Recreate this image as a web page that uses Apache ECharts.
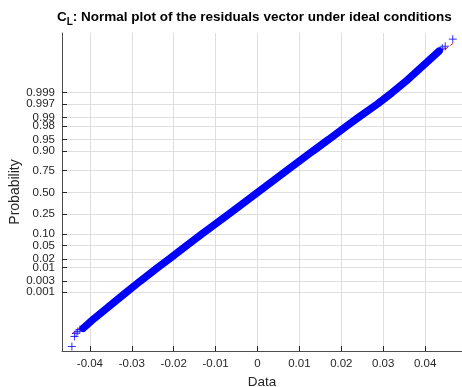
<!DOCTYPE html>
<html>
<head>
<meta charset="utf-8">
<script src="https://cdn.jsdelivr.net/npm/echarts@6/dist/echarts.min.js"></script>
<style>html,body{margin:0;padding:0;background:#fff;}#c{width:462px;height:387px;}</style>
</head>
<body>
<div id="c"></div>
<script>
// ---- data ----
const probTicks  = [0.001, 0.003, 0.01, 0.02, 0.05, 0.10, 0.25, 0.50, 0.75, 0.90, 0.95, 0.98, 0.99, 0.997, 0.999];
const probLabels = ['0.001','0.003','0.01','0.02','0.05','0.10','0.25','0.50','0.75','0.90','0.95','0.98','0.99','0.997','0.999'];
const dataTicks  = [-0.04, -0.03, -0.02, -0.01, 0, 0.01, 0.02, 0.03, 0.04];
const dataLabels = ['-0.04','-0.03','-0.02','-0.01','0','0.01','0.02','0.03','0.04'];

// dense band of residuals (data value, probability)
const bandData = [-0.0416, -0.0390, -0.0313, -0.0280, -0.0238, -0.0210, -0.0169, -0.0132, -0.0069, 0, 0.0069, 0.0132, 0.0170, 0.0212, 0.0241, 0.0287, 0.0321, 0.0353, 0.0433];
const bandProb = [1.3e-5, 4.7e-5, 0.001, 0.003, 0.01, 0.02, 0.05, 0.10, 0.25, 0.50, 0.75, 0.90, 0.95, 0.98, 0.99, 0.997, 0.999, 0.9997, 0.999994];

// isolated tail points
const lowerTailData = [-0.0443, -0.0437, -0.0433, -0.0429, -0.0424];
const lowerTailProb = [9.2e-7, 4.1e-6, 6.5e-6, 8.5e-6, 1.1e-5];
const upperTailData = [0.0436, 0.0441, 0.0448, 0.0466];
const upperTailProb = [0.9999951, 0.9999961, 0.99999705, 0.99999898];

// reference line (through quartiles, extended over the data range)
const refData = [-0.0443, 0.0466];
const refProb = [5.8e-6, 0.99999802];

// ---- normal probability scale ----
function norminv(p) {
  const a = [-3.969683028665376e+01, 2.209460984245205e+02, -2.759285104469687e+02, 1.383577518672690e+02, -3.066479806614716e+01, 2.506628277459239e+00];
  const b = [-5.447609879822406e+01, 1.615858368580409e+02, -1.556989798598866e+02, 6.680131188771972e+01, -1.328068155288572e+01];
  const c = [-7.784894002430293e-03, -3.223964580411365e-01, -2.400758277161838e+00, -2.549732539343734e+00, 4.374664141464968e+00, 2.938163982698783e+00];
  const d = [7.784695709041462e-03, 3.224671290700398e-01, 2.445134137142996e+00, 3.754408661907416e+00];
  const plow = 0.02425;
  let q, r;
  if (p < plow) {
    q = Math.sqrt(-2 * Math.log(p));
    return (((((c[0]*q+c[1])*q+c[2])*q+c[3])*q+c[4])*q+c[5]) / ((((d[0]*q+d[1])*q+d[2])*q+d[3])*q+1);
  } else if (p <= 1 - plow) {
    q = p - 0.5; r = q * q;
    return (((((a[0]*r+a[1])*r+a[2])*r+a[3])*r+a[4])*r+a[5])*q / (((((b[0]*r+b[1])*r+b[2])*r+b[3])*r+b[4])*r+1);
  } else {
    q = Math.sqrt(-2 * Math.log(1 - p));
    return -(((((c[0]*q+c[1])*q+c[2])*q+c[3])*q+c[4])*q+c[5]) / ((((d[0]*q+d[1])*q+d[2])*q+d[3])*q+1);
  }
}
const zTicks = probTicks.map(norminv);
const pair = (xs, ps) => xs.map((x, i) => [x, norminv(ps[i])]);
// labels split over two coincident axes so the crowded ones next to the ends are not dropped
const crowded = [1, probTicks.length - 2];
const zMainLabels = zTicks.filter((z, i) => !crowded.includes(i));
const zExtraLabels = zTicks.filter((z, i) => crowded.includes(i));
const probFmt = v => { const i = zTicks.findIndex(t => Math.abs(t - v) < 1e-6); return i >= 0 ? probLabels[i] : ''; };

const plusPath = 'path://M0,5L10,5M5,0L5,10';
const FONT = 'Liberation Sans, Arial, Helvetica, sans-serif';
const TXT = '#262626';
const Y_MIN = -4.91, Y_MAX = 4.94;
const yLabelStyle = {hideOverlap: false, showMinLabel: true, showMaxLabel: true, fontFamily: FONT, fontSize: 11.5, color: TXT, margin: 7, formatter: probFmt};

const chart = echarts.init(document.getElementById('c'), null, {renderer: 'canvas'});
chart.setOption({
  animation: false,
  backgroundColor: '#ffffff',
  title: {
    text: '{c|C}{s|L}{c|: Normal plot of the residuals vector under ideal conditions}',
    left: 57, top: 10, padding: 0,
    textStyle: {
      rich: {
        c: {fontFamily: FONT, fontSize: 13.5, fontWeight: 'bold', color: '#000', lineHeight: 15, verticalAlign: 'top'},
        s: {fontFamily: FONT, fontSize: 10, fontWeight: 'bold', color: '#000', lineHeight: 15, padding: [7, 0, 0, 0], verticalAlign: 'top'}
      }
    }
  },
  grid: {left: 62, right: 0, top: 33, bottom: 36, containLabel: false, outerBoundsMode: 'none'},
  xAxis: {
    type: 'value', min: -0.04666, max: 0.0488,
    name: 'Data', nameLocation: 'middle', nameGap: 24, nameMoveOverlap: false,
    nameTextStyle: {fontFamily: FONT, fontSize: 13.5, color: TXT},
    axisLine: {show: true, onZero: false, lineStyle: {color: '#4d4d4d', width: 1}},
    axisTick: {show: true, inside: true, length: 5, customValues: dataTicks, lineStyle: {color: '#262626'}},
    axisLabel: {customValues: dataTicks, hideOverlap: false, fontFamily: FONT, fontSize: 11.5, color: TXT, margin: 7,
      formatter: v => { const i = dataTicks.findIndex(t => Math.abs(t - v) < 1e-9); return i >= 0 ? dataLabels[i] : ''; }},
    splitLine: {show: true, lineStyle: {color: '#dedede', width: 1}}
  },
  yAxis: [
    {
      type: 'value', min: Y_MIN, max: Y_MAX, position: 'left',
      name: 'Probability', nameLocation: 'middle', nameGap: 40, nameRotate: 90, nameMoveOverlap: false,
      nameTextStyle: {fontFamily: FONT, fontSize: 14, color: TXT},
      axisLine: {show: true, onZero: false, lineStyle: {color: '#4d4d4d', width: 1}},
      axisTick: {show: true, inside: true, length: 5, customValues: zTicks, lineStyle: {color: '#262626'}},
      axisLabel: Object.assign({customValues: zMainLabels}, yLabelStyle),
      splitLine: {show: true, lineStyle: {color: '#dedede', width: 1}}
    },
    {
      type: 'value', min: Y_MIN, max: Y_MAX, position: 'left', offset: 0,
      axisLine: {show: false}, axisTick: {show: false}, splitLine: {show: false},
      axisLabel: Object.assign({customValues: zExtraLabels}, yLabelStyle)
    }
  ],
  series: [
    {
      type: 'line', data: pair(refData, refProb), symbol: 'none', z: 1,
      lineStyle: {color: '#ff0000', width: 1, type: [4, 3]}
    },
    {
      type: 'line', data: pair(bandData, bandProb), symbol: 'none', z: 2,
      lineStyle: {color: '#0000ff', width: 7.5, cap: 'round'}
    },
    {
      type: 'scatter', data: pair(lowerTailData, lowerTailProb).concat(pair(upperTailData, upperTailProb)),
      symbol: plusPath, symbolSize: 8, z: 3,
      itemStyle: {color: 'rgba(0,0,0,0)', borderColor: '#0000ff', borderWidth: 1}
    }
  ]
});
</script>
</body>
</html>
